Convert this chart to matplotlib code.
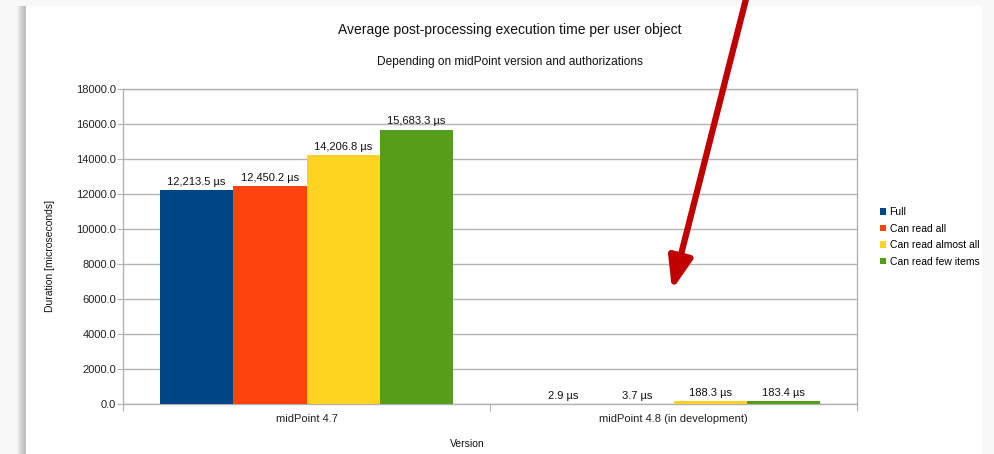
import matplotlib
matplotlib.use("Agg")
import matplotlib.pyplot as plt
from matplotlib.patches import Rectangle
import numpy as np

plt.rcParams['font.family'] = ['Liberation Sans', 'DejaVu Sans']

categories = ["midPoint 4.7", "midPoint 4.8 (in development)"]
series_names = ["Full", "Can read all", "Can read almost all", "Can read few items"]
values = {
    "Full": [12213.5, 2.9],
    "Can read all": [12450.2, 3.7],
    "Can read almost all": [14206.8, 188.3],
    "Can read few items": [15683.3, 183.4],
}
colors = ["#004586", "#ff420e", "#ffd320", "#579d1c"]
yticks = [0, 2000, 4000, 6000, 8000, 10000, 12000, 14000, 16000, 18000]

W, H = 994, 454
fig = plt.figure(figsize=(W/100, H/100), dpi=100)
fig.patch.set_facecolor('#f8f8f8')

# shadow + paper
for i in range(9):
    fig.add_artist(Rectangle(((17 + i)/W, 0), (963 - i)/W, (H - 6)/H, transform=fig.transFigure,
                             facecolor='#808080', alpha=0.07, edgecolor='none', zorder=-10))
fig.add_artist(Rectangle((26/W, 0), 956/W, (H - 6)/H, transform=fig.transFigure,
                         facecolor='white', edgecolor='none', zorder=-9))

ax = fig.add_axes([123/W, (H-404)/H, (857-123)/W, (404-89)/H])
ax.set_facecolor('none')
ax.set_zorder(1)

x = np.arange(len(categories))
bw = 0.2
for i, (name, c) in enumerate(zip(series_names, colors)):
    vals = values[name]
    pos = x + (i - 1.5) * bw
    ax.bar(pos, vals, width=bw, color=c, label=name, zorder=3)
    for p, v in zip(pos, vals):
        ax.text(p, v + 180, f"{v:,.1f} µs", ha='center', va='bottom', fontsize=8, color='#111111', zorder=4)

ax.set_xlim(-0.5, 1.5)
ax.set_ylim(0, 18000)
ax.set_yticks(yticks)
ax.set_yticklabels([f"{t:.1f}" for t in yticks], fontsize=8, color='#222222')
ax.yaxis.grid(True, color='#b3b3b3', linewidth=1, zorder=0)
ax.set_xticks([-0.5, 0.5, 1.5])
ax.set_xticklabels([])
ax.set_xticks(x, minor=True)
ax.set_xticklabels(categories, minor=True, fontsize=8, color='#222222')
ax.tick_params(axis='x', which='major', length=5, color='#b3b3b3', direction='out')
ax.tick_params(axis='x', which='minor', length=0, pad=7)
ax.tick_params(axis='y', length=4, color='#b3b3b3', pad=1)
for s in ['left', 'right', 'bottom', 'top']:
    ax.spines[s].set_color('#b3b3b3')
    ax.spines[s].set_linewidth(1)

ax.set_ylabel("Duration [microseconds]", fontsize=7.5, color='#111111')
ax.yaxis.set_label_coords(-68/734, 0.47)
ax.set_xlabel("Version", fontsize=7.5, color='#111111')
ax.xaxis.set_label_coords((467-123)/734, -35/315)

fig.text(510/W, 1 - 30/H, "Average post-processing execution time per user object", ha='center', va='center',
         fontsize=10, color='#111111')
fig.text(510/W, 1 - 62/H, "Depending on midPoint version and authorizations", ha='center', va='center',
         fontsize=8.6, color='#111111')

leg = ax.legend(loc='upper left', bbox_to_anchor=(875/W, 1 - 202/H), bbox_transform=fig.transFigure,
                frameon=False, fontsize=7.5, handlelength=0.6, handleheight=0.6, handletextpad=0.3,
                labelspacing=0.62, borderpad=0)

ann = ax.annotate("", xy=(672/W, 1 - 290/H), xytext=(747/W, 1 + 5/H), xycoords='figure fraction',
                  textcoords='figure fraction', annotation_clip=False, zorder=10,
                  arrowprops=dict(arrowstyle='-|>,head_length=1.6,head_width=0.6', color='#c00000', lw=4.5,
                                  shrinkA=0, shrinkB=0, mutation_scale=12))

fig.savefig("out.png", dpi=100, facecolor=fig.get_facecolor())
